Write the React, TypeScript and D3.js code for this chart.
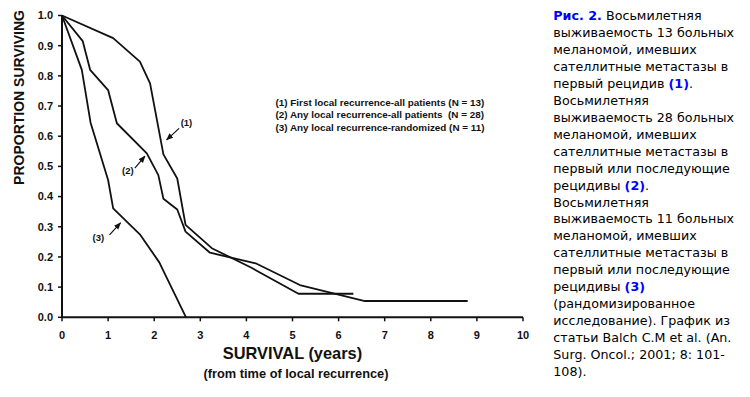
import React from "react";
import * as d3 from "d3";

// Kaplan-Meier style curves (years, proportion surviving)
const years1 = [0, 1.11, 1.69, 1.91, 2.2, 2.5, 2.68, 3.25, 4.1, 5.13, 6.32];
const surv1 = [1.0, 0.925, 0.847, 0.775, 0.54, 0.46, 0.306, 0.229, 0.165, 0.078, 0.078];

const years2 = [0, 0.45, 0.61, 1.0, 1.19, 1.84, 2.09, 2.2, 2.5, 2.68, 3.21, 4.2, 5.16, 6.57, 8.8];
const surv2 = [1.0, 0.915, 0.82, 0.753, 0.643, 0.543, 0.471, 0.393, 0.357, 0.284, 0.214, 0.179, 0.107, 0.054, 0.054];

const years3 = [0, 0.43, 0.62, 1.0, 1.11, 1.7, 2.11, 2.69];
const surv3 = [1.0, 0.82, 0.645, 0.455, 0.361, 0.273, 0.182, 0];

const xTicks = [0, 1, 2, 3, 4, 5, 6, 7, 8, 9, 10];
const yTicks = [0, 0.1, 0.2, 0.3, 0.4, 0.5, 0.6, 0.7, 0.8, 0.9, 1.0];

const legendLines = [
    "(1) First local recurrence-all patients (N = 13)",
    "(2) Any local recurrence-all patients  (N = 28)",
    "(3) Any local recurrence-randomized (N = 11)",
];

// curve labels with arrows, in data units: label, label x/y, arrow from, arrow to
const callouts = [
    { label: "(1)", lx: 2.7, ly: 0.645, x1: 2.54, y1: 0.626, x2: 2.27, y2: 0.588 },
    { label: "(2)", lx: 1.43, ly: 0.486, x1: 1.58, y1: 0.494, x2: 1.8, y2: 0.534 },
    { label: "(3)", lx: 0.79, ly: 0.264, x1: 1.03, y1: 0.273, x2: 1.27, y2: 0.313 },
];

const captionLines = [
    "Рис. 2. Восьмилетняя",
    "выживаемость 13 больных",
    "меланомой, имевших",
    "сателлитные метастазы в",
    "первый рецидив (1).",
    "Восьмилетняя",
    "выживаемость 28 больных",
    "меланомой, имевших",
    "сателлитные метастазы в",
    "первый или последующие",
    "рецидивы (2).",
    "Восьмилетняя",
    "выживаемость 11 больных",
    "меланомой, имевших",
    "сателлитные метастазы в",
    "первый или последующие",
    "рецидивы (3)",
    "(рандомизированное",
    "исследование). График из",
    "статьи Balch C.M et al. (An.",
    "Surg. Oncol.; 2001; 8: 101-",
    "108).",
];

const W = 750;
const H = 397;
const font = "'Liberation Sans', Arial, Helvetica, sans-serif";
const captionFont = "'DejaVu Sans', Verdana, sans-serif";

const App: React.FC = () => {
    const x = d3.scaleLinear().domain([0, 10]).range([62, 523]);
    const y = d3.scaleLinear().domain([0, 1]).range([317.3, 15.5]);

    const line = d3
        .line<[number, number]>()
        .x((d) => x(d[0]))
        .y((d) => y(d[1]));

    const series = [
        d3.zip(years1, surv1) as [number, number][],
        d3.zip(years2, surv2) as [number, number][],
        d3.zip(years3, surv3) as [number, number][],
    ];

    return (
        <div style={{ position: "fixed", left: 0, top: 0 }}>
            <svg width={W} height={H} fontFamily={font}>
                <defs>
                    <marker id="ah" viewBox="0 0 10 10" refX="9" refY="5" markerWidth="6" markerHeight="6" orient="auto">
                        <path d="M0,1 L10,5 L0,9 Z" fill="#111" />
                    </marker>
                </defs>
                <rect width={W} height={H} fill="#fff" />

                {/* curves */}
                {series.map((s, i) => (
                    <path key={i} d={line(s) as string} fill="none" stroke="#111" strokeWidth={1.8} strokeLinejoin="round" />
                ))}

                {/* axes */}
                <line x1={x(0)} x2={x(0)} y1={y(0)} y2={y(1)} stroke="#111" strokeWidth={2} />
                <line x1={x(0)} x2={x(10)} y1={y(0)} y2={y(0)} stroke="#111" strokeWidth={2} />
                {yTicks.map((t) => (
                    <g key={t}>
                        <line x1={x(0) - 4} x2={x(0)} y1={y(t)} y2={y(t)} stroke="#111" strokeWidth={1.5} />
                        <text x={53} y={y(t)} dy="0.35em" textAnchor="end" fontSize={11} fontWeight="bold" fill="#111">
                            {d3.format(".1f")(t)}
                        </text>
                    </g>
                ))}
                {xTicks.map((t) => (
                    <g key={t}>
                        <line x1={x(t)} x2={x(t)} y1={y(0)} y2={y(0) + 4} stroke="#111" strokeWidth={1.5} />
                        <text x={x(t)} y={339.3} textAnchor="middle" fontSize={11} fontWeight="bold" fill="#111">
                            {t}
                        </text>
                    </g>
                ))}

                {/* axis titles */}
                <text transform="translate(23.5,97.5) rotate(-90)" textAnchor="middle" fontSize={14} fontWeight="bold" fill="#111">
                    PROPORTION SURVIVING
                </text>
                <text x={292.5} y={359} textAnchor="middle" fontSize={16.4} fontWeight="bold" fill="#111">
                    SURVIVAL (years)
                </text>
                <text x={296} y={377.5} textAnchor="middle" fontSize={12.8} fontWeight="bold" fill="#111">
                    (from time of local recurrence)
                </text>

                {/* legend */}
                {legendLines.map((l, i) => (
                    <text key={i} x={275.5} y={105.5 + i * 12.8} fontSize={9.9} fontWeight="bold" fill="#111" xmlSpace="preserve">
                        {l}
                    </text>
                ))}

                {/* callouts */}
                {callouts.map((c) => (
                    <g key={c.label}>
                        <line
                            x1={x(c.x1)}
                            y1={y(c.y1)}
                            x2={x(c.x2)}
                            y2={y(c.y2)}
                            stroke="#111"
                            strokeWidth={1.2}
                            markerEnd="url(#ah)"
                        />
                        <text x={x(c.lx)} y={y(c.ly)} dy="0.35em" textAnchor="middle" fontSize={9.5} fontWeight="bold" fill="#111">
                            {c.label}
                        </text>
                    </g>
                ))}

                {/* caption */}
                {captionLines.map((l, i) => (
                    <text key={i} x={553.3} y={20.3 + i * 16.93} fontSize={12.7} fontFamily={captionFont} fill="#000">
                        {l.split(/(Рис\. 2\.|\(\d\))/).map((part, j) =>
                            /^(Рис\. 2\.|\(\d\))$/.test(part) ? (
                                <tspan key={j} fill="#0000ff" fontWeight="bold">
                                    {part}
                                </tspan>
                            ) : (
                                <tspan key={j}>{part}</tspan>
                            )
                        )}
                    </text>
                ))}
            </svg>
        </div>
    );
};

export default App;
